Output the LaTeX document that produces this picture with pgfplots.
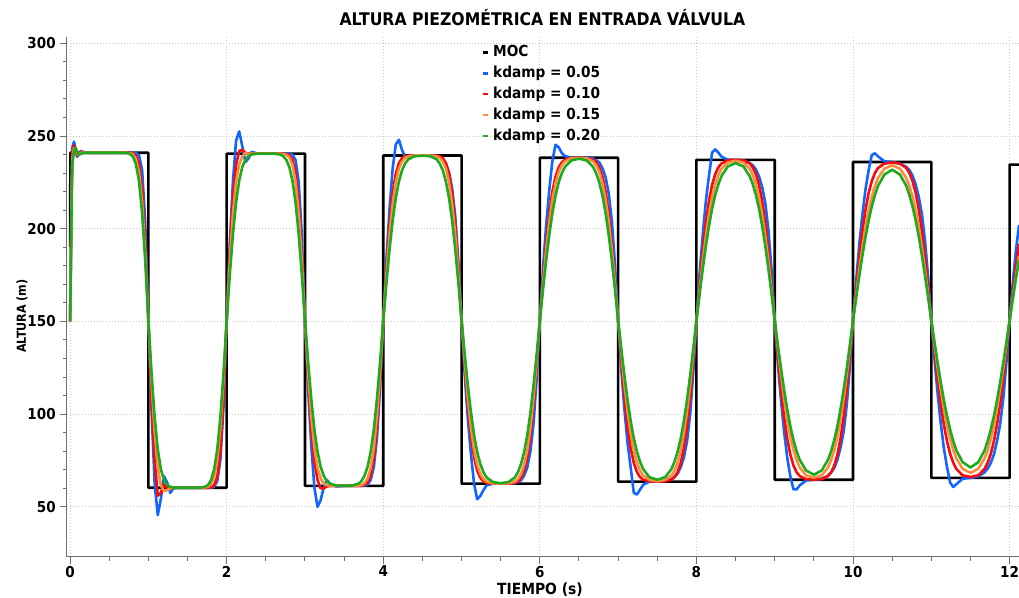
\documentclass[border=0pt]{standalone}
\usepackage{pgfplots}
\pgfplotsset{compat=1.18}
\usepackage{pgfplotstable}
\usepackage{fontspec}
\setmainfont{DejaVu Sans}[FakeStretch=0.9]

\definecolor{cblue}{RGB}{20,100,255}
\definecolor{cred}{RGB}{250,10,10}
\definecolor{corange}{RGB}{255,140,60}
\definecolor{cgreen}{RGB}{30,170,30}
\definecolor{cgrid}{RGB}{200,200,200}
\definecolor{caxis}{RGB}{110,110,110}

% t, kdamp 0.05 (B), 0.10 (R), 0.15 (O), 0.20 (G)
\pgfplotstableread{
t B R O G
0 150 150 150 150
0.01 185 185 182 180
0.02 225 225 220 215
0.03 244 242 238 235
0.05 247 245 243.5 242
0.07 243 242.5 243.5 243.7
0.09 238.8 239.5 240.5 241.5
0.11 240.5 240.5 240 239.8
0.14 242 241.5 241 240.5
0.18 241.2 241 241 241
0.24 241 241 241 241
0.4 241 241 241 241
0.6 241 241 241 241
0.68 241 241 241 241
0.72 241 241 241 240.9
0.76 241 241 240.8 240.5
0.8 241 240.8 240.3 239.1
0.84 240.9 239.7 237.7 235
0.88 239.7 235.1 230.6 225.8
0.92 231.7 221.2 214.5 208.5
0.96 203.5 192.2 186.8 182.5
1 150.5 150.5 150.5 150.5
1.04 102.5 107.5 117.5 122.4
1.08 62.5 75.5 90.5 98.5
1.12 45.5 56 71.5 81
1.16 54.5 57.5 61.5 70.2
1.2 66.5 62 58.5 64.4
1.24 63 60 59 61.7
1.28 57.5 60 60 60.8
1.32 60 60.3 60.3 60.4
1.4 60.3 60.3 60.3 60.3
1.6 60.3 60.3 60.3 60.3
1.68 60.3 60.3 60.3 60.4
1.72 60.3 60.3 60.4 60.8
1.76 60.3 60.3 60.8 61.7
1.8 60.3 60.5 62.2 64.4
1.84 60.8 61.6 66.3 70.2
1.88 63.8 66.2 75.5 81
1.92 75.5 80.1 92.7 98.5
1.96 104.5 108.9 118.6 122.4
2 150.5 150.5 150.5 150.5
2.04 192.5 187.5 182.4 175.2
2.08 225.5 216.5 208.2 197
2.12 247.5 234.5 225.4 214.1
2.16 252.5 242 234.6 226
2.2 244.5 242.5 239 233.4
2.24 236 241 241 237.3
2.28 238 240 240.4 239.2
2.32 241.5 240.5 240.5 240.1
2.4 240.5 240.5 240.5 240.5
2.6 240.5 240.5 240.5 240.5
2.68 240.5 240.5 240.5 240.1
2.72 240.5 240.5 240.4 239.2
2.76 240.5 240.3 240 237.3
2.8 240.5 239.8 238.6 233.4
2.84 240 237.3 234.6 226
2.88 237 230.2 225.4 214.1
2.92 225.4 214.1 208.2 197
2.96 196.4 186.6 182.4 175.2
3 150.5 150.5 150.5 150.5
3.04 113.5 118.5 122.8 128.5
3.08 83.5 92.5 99.1 108.5
3.12 60.5 74.5 81.8 91.9
3.16 50 64.5 71.1 79.9
3.2 53.5 60 65.4 71.6
3.24 60.5 60 62.7 66.7
3.28 64.5 61 61.7 63.8
3.32 62.5 61.3 61.4 62.4
3.4 61 61.3 61.3 61.5
3.5 61.3 61.3 61.3 61.3
3.6 61.3 61.3 61.3 61.5
3.68 61.3 61.3 61.4 62.4
3.72 61.3 61.4 61.7 63.8
3.76 61.5 61.8 62.7 66.7
3.8 62 63.2 65.4 71.6
3.84 64.5 67.2 71.1 79.9
3.88 71.6 76.3 81.8 91.9
3.92 87.4 93.3 99.1 108.5
3.96 114.7 118.9 122.8 128.5
4 150.5 150.5 150.5 150.5
4.04 183.5 178.2 174.9 170.4
4.08 210.5 201.8 196.5 188.7
4.12 232.5 219 213.4 204.3
4.16 245.5 229.7 225.2 216.6
4.2 248 235.4 232.5 225.5
4.24 242.5 238.1 236.3 231.6
4.28 238.5 239.1 238.3 235.3
4.32 239 239.4 239.1 237.5
4.4 239.5 239.5 239.5 239.1
4.5 239.5 239.5 239.5 239.4
4.6 239.5 239.5 239.5 239.1
4.68 239.3 239.4 239.1 237.5
4.72 238.6 239.1 238.3 235.3
4.76 237.7 238.1 236.3 231.6
4.8 235.1 235.4 232.5 225.5
4.84 230.6 229.7 225.2 216.6
4.88 221.7 219 213.4 204.3
4.92 206.6 201.8 196.5 188.7
4.96 181.7 178.2 174.9 170.4
5 150.5 150.5 150.5 150.5
5.04 121.5 126.4 128.8 132.5
5.08 97.7 105 109.1 115.7
5.12 78.3 88.3 92.7 101
5.16 62.5 76.7 80.8 88.8
5.2 54.1 69.5 72.7 79.6
5.24 55.9 65.7 67.8 73.1
5.28 59 63.7 65 68.6
5.32 61.6 62.9 63.6 65.8
5.4 62.5 62.5 62.7 63.4
5.5 62.5 62.5 62.5 62.7
5.6 62.5 62.5 62.7 63.4
5.68 62.7 62.9 63.6 65.8
5.72 63.4 63.7 65 68.6
5.76 64.3 65.7 67.8 73.1
5.8 66.9 69.5 72.7 79.6
5.84 71.3 76.7 80.8 88.8
5.88 80.1 88.3 92.7 101
5.92 95.1 105 109.1 115.7
5.96 119.7 126.4 128.8 132.5
6 150.5 150.5 150.5 150.5
6.04 178.6 172.2 170.2 167
6.08 201.4 191.9 188.2 182.6
6.12 220.7 208.2 203.6 196.5
6.16 236.5 220 215.7 208.4
6.2 245.3 228.1 224.5 217.8
6.24 244 233 230.5 224.9
6.28 240.9 235.8 234.2 229.9
6.32 239.2 237.2 236.3 233.4
6.4 238.3 238.1 237.9 236.8
6.5 238.3 238.3 238.2 237.8
6.6 238.3 238.1 237.9 236.8
6.68 237.9 237.2 236.3 233.4
6.72 237 235.8 234.2 229.9
6.76 235.7 233 230.5 224.9
6.8 232.6 228.1 224.5 217.8
6.84 227.8 220 215.7 208.4
6.88 219 208.2 203.6 196.5
6.92 204.1 191.9 188.2 182.6
6.96 180.4 172.2 170.2 167
7 150.5 150.5 150.5 150.5
7.04 124.4 129 132.7 135.3
7.08 102.7 109.6 116.1 120.9
7.12 84.5 93.4 101.6 107.7
7.16 71.4 81.7 89.6 96.4
7.2 57.5 73.7 80.5 87
7.24 56.6 68.8 74 79.8
7.28 59.3 66 69.6 74.3
7.32 61.9 64.6 66.9 70.3
7.4 63.6 63.8 64.5 66
7.5 63.6 63.6 63.8 64.6
7.6 64 63.8 64.5 66
7.68 64.9 64.6 66.9 70.3
7.72 66.2 66 69.6 74.3
7.76 67.9 68.8 74 79.8
7.8 71.4 73.7 80.5 87
7.84 76.6 81.7 89.6 96.4
7.88 85.3 93.4 101.6 107.7
7.92 100.1 109.6 116.1 120.9
7.96 122.7 129 132.7 135.3
8 150.5 150.5 150.5 150.5
8.04 175.6 169.9 166.8 164.6
8.08 196.5 187.7 182.2 178.1
8.12 214.7 203 195.9 190.5
8.16 228.5 214.9 207.7 201.5
8.2 241.1 223.6 216.9 210.8
8.24 242.8 229.5 223.9 218.2
8.28 241.1 233.1 228.9 224
8.32 238.9 235.2 232.3 228.4
8.4 237.2 236.9 235.7 233.6
8.5 237.2 237.1 236.7 235.4
8.6 236.8 236.9 235.7 233.6
8.68 235.5 235.2 232.3 228.4
8.72 234.2 233.1 228.9 224
8.76 232 229.5 223.9 218.2
8.8 228.1 223.6 216.9 210.8
8.84 222.5 214.9 207.7 201.5
8.88 213.8 203 195.9 190.5
8.92 199.1 187.7 182.2 178.1
8.96 177.4 169.9 166.8 164.6
9 150.5 150.5 150.5 150.5
9.04 127.3 131.3 135.5 137.4
9.08 107.5 113.6 121.2 124.7
9.12 90.4 98.5 108.2 113.1
9.16 76.6 86.7 97 102.6
9.2 66.3 78.1 87.7 93.4
9.24 59.4 72.2 80.6 86
9.28 59.4 68.6 75.2 79.9
9.32 61.6 66.6 71.2 75.3
9.4 64.2 64.9 67 69.6
9.5 64.6 64.7 65.6 67.3
9.6 65.2 64.9 67 69.6
9.68 66.7 66.6 71.2 75.3
9.72 68.5 68.6 75.2 79.9
9.76 71 72.2 80.6 86
9.8 75.3 78.1 87.7 93.4
9.84 81.8 86.7 97 102.6
9.88 90.4 98.5 108.2 113.1
9.92 105 113.6 121.2 124.7
9.96 125.6 131.3 135.5 137.4
10 150.5 150.5 150.5 150.5
10.04 171.9 168 164.4 162.7
10.08 191.5 184.4 177.7 174.5
10.12 207.8 198.6 189.9 185.6
10.16 221.5 210.4 200.8 195.7
10.2 231.7 219.4 209.9 204.5
10.24 239.8 225.7 217.3 212.1
10.28 240.7 230.1 223 218.2
10.32 239 232.8 227.4 223.2
10.4 236.4 235.1 232.4 229.2
10.5 236 235.8 234.2 231.9
10.6 235.1 235.1 232.4 229.2
10.68 233.4 232.8 227.4 223.2
10.72 231.7 230.1 223 218.2
10.76 228.7 225.7 217.3 212.1
10.8 224 219.4 209.9 204.5
10.84 217.2 210.4 200.8 195.7
10.88 207.8 198.6 189.9 185.6
10.92 193.3 184.4 177.7 174.5
10.96 173.6 168 164.4 162.7
11 150.5 150.5 150.5 150.5
11.04 130.1 134.5 137.5 139
11.08 111.4 119.4 125 127.9
11.12 95.3 106 113.6 117.4
11.16 81.7 94.5 103.1 107.7
11.2 71.5 85.5 94 99.1
11.24 63.1 78.6 86.7 91.7
11.28 60.7 73.8 80.7 85.5
11.32 62.2 70.4 76.2 80.4
11.4 65.2 67 70.5 74.1
11.5 65.6 66.1 68.3 71.2
11.6 66.4 67 70.5 74.1
11.68 68.6 70.4 76.2 80.4
11.72 70.7 73.8 80.7 85.5
11.76 73.7 78.6 86.7 91.7
11.8 78.3 85.5 94 99.1
11.84 85.6 94.5 103.1 107.7
11.88 94.9 106 113.6 117.4
11.92 108.9 119.4 125 127.9
11.96 128.4 134.5 137.5 139
12 150.5 150.5 150.5 150.5
12.04 170.7 165.2 162.5 161.9
12.08 188 179.2 174.1 172.9
12.12 202 191.9 185.1 183.3
}\kdamp

\begin{document}
\begin{tikzpicture}
\begin{axis}[
    name=ax,
    scale only axis, width=476pt, height=260pt,
    xmin=-0.043, xmax=12.12, ymin=23, ymax=303.6,
    axis x line*=bottom, axis y line*=left,
    axis line style={caxis, line width=0.6pt},
    xtick={0,2,...,12}, ytick={50,100,...,300},
    minor x tick num=3, minor y tick num=4,
    tick align=outside, major tick length=3.5pt, minor tick length=2pt,
    tick style={caxis, line width=0.5pt},
    grid=major,
    major grid style={cgrid, line width=0.5pt, dash pattern=on 0.6pt off 0.9pt},
    /pgf/number format/assume math mode=true,
    tick label style={font=\bfseries\fontsize{7.5}{8}\selectfont},
    xticklabel style={yshift=2.5pt},
    yticklabel style={xshift=1.5pt},
    title={ALTURA PIEZOMÉTRICA EN ENTRADA VÁLVULA},
    title style={font=\bfseries\fontsize{8.7}{10}\selectfont, at={(axis description cs:0.4995,1.013)}, anchor=center},
    xlabel={TIEMPO (s)},
    xlabel style={font=\bfseries\fontsize{7.7}{9}\selectfont, at={(axis description cs:0.497,-0.064)}, anchor=center},
    ylabel={ALTURA (m)},
    ylabel style={font=\bfseries\fontsize{6.2}{7}\selectfont, at={(axis description cs:-0.047,0.463)}, anchor=center},
    legend style={at={(axis description cs:0.435,0.992)}, anchor=north west, draw=none, fill=none,
        font=\bfseries\fontsize{7.6}{9}\selectfont, row sep=-0.8pt, inner sep=0pt},
    legend cell align=left,
    legend image code/.code={\draw[#1, line width=1.3pt] (0pt,0pt) -- (2.6pt,0pt);},
    every axis plot/.append style={line width=1.3pt, line join=round},
]
\addplot[black] coordinates {
(0,190) (0.004,241) (1,241) (1,60.3) (2,60.3) (2,240.5) (3,240.5) (3,61.3) (4,61.3)
(4,239.5) (5,239.5) (5,62.5) (6,62.5) (6,238.3) (7,238.3) (7,63.6) (8,63.6)
(8,237.2) (9,237.2) (9,64.6) (10,64.6) (10,236) (11,236) (11,65.6) (12,65.6)
(12,234.6) (12.12,234.6)};
\addlegendentry{MOC}
\addplot[cblue] table[x=t, y=B] {\kdamp};
\addlegendentry{kdamp = 0.05}
\addplot[cred] table[x=t, y=R] {\kdamp};
\addlegendentry{kdamp = 0.10}
\addplot[corange] table[x=t, y=O] {\kdamp};
\addlegendentry{kdamp = 0.15}
\addplot[cgreen] table[x=t, y=G] {\kdamp};
\addlegendentry{kdamp = 0.20}
\end{axis}
\pgfresetboundingbox
\path[use as bounding box] ([xshift=-33.35pt,yshift=-20.15pt]ax.south west) rectangle ([yshift=18.35pt]ax.north east);
\end{tikzpicture}
\end{document}
